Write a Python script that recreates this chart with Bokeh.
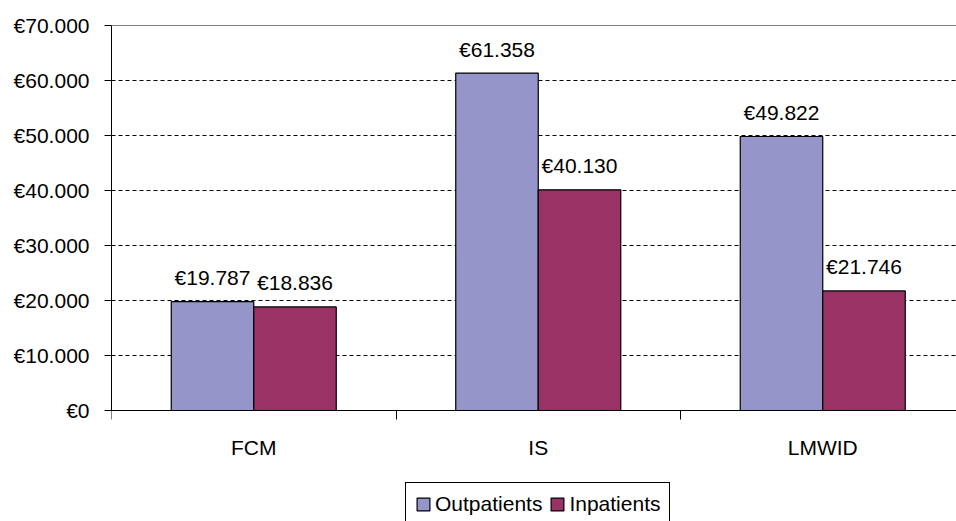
import numpy as np
from bokeh.plotting import figure
from bokeh.models import (ColumnDataSource, FixedTicker, Range1d, Span, Legend, LegendItem)
from bokeh.core.properties import value
from bokeh.embed import file_html
from bokeh.resources import INLINE

categories = ["FCM", "IS", "LMWID"]
outpatients = [19787, 61358, 49822]
inpatients = [18836, 40130, 21746]
series_names = ["Outpatients", "Inpatients"]
y_ticks = [0, 10000, 20000, 30000, 40000, 50000, 60000, 70000]
y_tick_labels = ["€0", "€10.000", "€20.000", "€30.000", "€40.000", "€50.000", "€60.000", "€70.000"]

FONT = "Liberation Sans"
FS = "21px"
COL_OUT = "#9595C9"
COL_IN = "#993366"


def euro(v):
    return "€" + f"{v:,}".replace(",", ".")


centers = np.arange(len(categories)) + 0.5
off = 0.145
bw = 0.29

src_out = ColumnDataSource(dict(x=centers - off, top=outpatients,
                                label=[euro(v) for v in outpatients]))
src_in = ColumnDataSource(dict(x=centers + off, top=inpatients,
                               label=[euro(v) for v in inpatients]))

# frame: x 111..956, y 25..521 ; value axis 0 at 410, 70000 at 25
y_max = y_ticks[-1]
y_min = -y_max * (521 - 410) / (410 - 25)

p = figure(width=956, height=521, output_backend="svg", toolbar_location=None,
           x_range=Range1d(0, 845 / 284.5), y_range=Range1d(y_min, y_max),
           min_border_left=111, min_border_right=0, min_border_top=25,
           min_border_bottom=0)
p.outline_line_color = None
p.background_fill_color = "white"
p.border_fill_color = "white"

r_out = p.vbar(x="x", top="top", width=bw, source=src_out, fill_color=COL_OUT,
               line_color="black", line_width=1.2)
r_in = p.vbar(x="x", top="top", width=bw, source=src_in, fill_color=COL_IN,
              line_color="black", line_width=1.2)

for s in (src_out, src_in):
    p.text(x="x", y="top", text="label", source=s, text_font=value(FONT),
           text_font_size=FS, text_align="center", text_baseline="alphabetic",
           y_offset=-24, text_color="black")

p.add_layout(Span(location=y_max, dimension="width", line_color="black", line_width=1.2))

# y axis
p.yaxis.ticker = FixedTicker(ticks=y_ticks)
p.yaxis.bounds = (0, y_max)
p.yaxis.major_label_overrides = {t: l for t, l in zip(y_ticks, y_tick_labels)}
p.yaxis.major_label_text_font = FONT
p.yaxis.major_label_text_font_size = FS
p.yaxis.major_label_text_color = "black"
p.yaxis.major_tick_out = 7
p.yaxis.major_tick_in = 0
p.yaxis.minor_tick_out = 0
p.yaxis.major_label_standoff = 15
p.yaxis.axis_line_color = "black"
p.yaxis.major_tick_line_color = "black"

# x axis, drawn at value 0 inside the frame
p.xaxis.fixed_location = 0
p.xaxis.ticker = FixedTicker(ticks=list(centers), minor_ticks=[0, 1, 2, 3])
p.xaxis.major_label_overrides = {float(c): n for c, n in zip(centers, categories)}
p.xaxis.major_label_text_font = FONT
p.xaxis.major_label_text_font_size = FS
p.xaxis.major_label_text_color = "black"
p.xaxis.major_tick_out = 0
p.xaxis.major_tick_in = 0
p.xaxis.minor_tick_out = 9
p.xaxis.minor_tick_in = 0
p.xaxis.minor_tick_line_color = "black"
p.xaxis.major_label_standoff = 16
p.xaxis.axis_line_color = "black"

p.xgrid.grid_line_color = None
p.ygrid.ticker = FixedTicker(ticks=y_ticks)
p.ygrid.grid_line_color = "black"
p.ygrid.grid_line_dash = "4 3"
p.ygrid.grid_line_width = 1

legend = Legend(items=[LegendItem(label=series_names[0], renderers=[r_out]),
                       LegendItem(label=series_names[1], renderers=[r_in])],
                orientation="horizontal", location=(294, -5),
                label_text_font=FONT, label_text_font_size=FS, label_text_color="black",
                glyph_width=16, glyph_height=16, label_standoff=4, spacing=7,
                padding=9, margin=0, border_line_color="black", border_line_width=1.2,
                border_line_alpha=1.0, background_fill_alpha=1.0)
p.add_layout(legend, "center")

open("out.html", "w").write(file_html(p, INLINE))
